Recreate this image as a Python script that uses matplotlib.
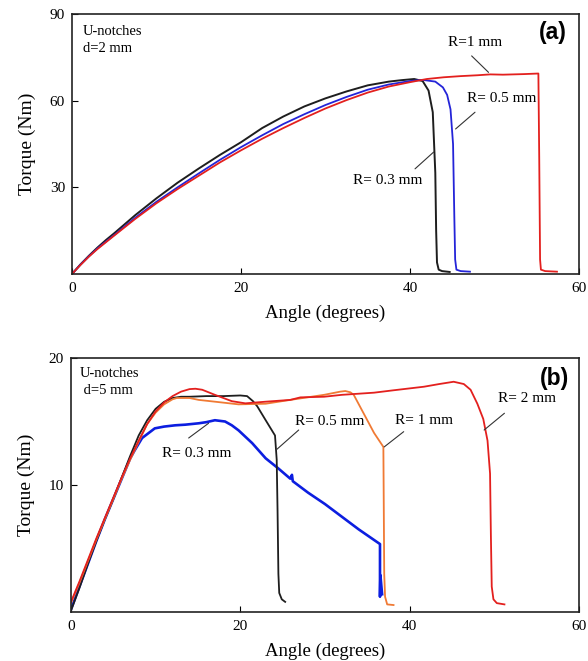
import numpy as np
import matplotlib.pyplot as plt

# ---- (a) U-notches, d = 2 mm ----
a_r03_angle = [0, 1, 2, 3, 4, 5, 7.5, 10, 12.5, 15, 17.5, 20, 22.5, 25, 27.5, 30, 32.5, 35,
               37.5, 39, 40.5, 41.5, 42.2, 42.7, 43.0, 43.1, 43.2, 43.4, 43.8, 44.7]
a_r03_torque = [0, 3.3, 6.3, 9.1, 11.7, 14.1, 20.4, 26.2, 31.6, 36.5, 41.2, 45.6, 50.5, 54.5,
                58.0, 60.8, 63.2, 65.3, 66.6, 67.1, 67.5, 66.8, 63.5, 56.0, 35.0, 15.0, 4.0,
                1.5, 1.0, 0.7]

a_r05_angle = [0, 1, 2, 3, 5, 7.5, 10, 12.5, 15, 17.5, 20, 22.5, 25, 27.5, 30, 32.5, 35, 37.5,
               40, 41.5, 43, 43.9, 44.4, 44.8, 45.1, 45.25, 45.35, 45.5, 46, 47.1]
a_r05_torque = [0, 3.2, 6.1, 8.8, 13.5, 19.5, 25.0, 30.0, 34.8, 39.5, 43.9, 48.0, 51.9, 55.3,
                58.5, 61.3, 63.8, 65.6, 66.8, 67.2, 66.6, 64.6, 62.0, 57.0, 45.0, 20.0, 5.0,
                1.5, 1.0, 0.8]

a_r1_angle = [0, 1, 2, 3, 5, 7.5, 10, 12.5, 15, 17.5, 20, 22.5, 25, 27.5, 30, 32.5, 35, 37.5,
              40, 42, 44, 46, 48, 49.5, 51, 53.5, 55.2, 55.3, 55.4, 55.5, 56, 57.4]
a_r1_torque = [0, 3.1, 6.0, 8.6, 13.3, 19.1, 24.5, 29.4, 34.0, 38.6, 42.8, 46.8, 50.5, 54.0,
               57.3, 60.2, 62.8, 64.9, 66.4, 67.5, 68.1, 68.5, 68.8, 69.1, 69.0, 69.2, 69.4,
               40.0, 5.0, 1.5, 1.0, 0.8]

# ---- (b) U-notches, d = 5 mm ----
b_r03_angle = [0, 1, 2, 3, 4, 5, 6, 7, 7.5, 8.4, 9.9, 11, 12.3, 13.5, 15.1, 16, 17, 18.2, 19,
               19.8, 21.4, 23, 24.5, 25.9, 26.1, 26.2, 28, 30, 32, 34, 36.5, 36.5, 36.55, 36.75]
b_r03_torque = [0.2, 2.0, 3.8, 5.6, 7.3, 8.9, 10.5, 12.1, 12.7, 13.7, 14.46, 14.6, 14.7, 14.75,
                14.86, 14.95, 15.1, 15.0, 14.7, 14.3, 13.3, 12.1, 11.3, 10.5, 10.8, 10.3, 9.4,
                8.5, 7.5, 6.5, 5.35, 1.2, 2.9, 1.4]

b_r05_angle = [0, 1, 2, 3, 4, 5, 6, 7, 8, 9, 10, 11, 12, 13, 14, 16, 18, 20, 20.8, 21.5, 22,
               23, 24.1, 24.3, 24.4, 24.5, 24.6, 24.9, 25.3]
b_r05_torque = [0.1, 1.9, 3.8, 5.6, 7.3, 8.9, 10.6, 12.3, 13.9, 15.1, 16.0, 16.55, 16.85, 16.95,
                16.95, 17.0, 17.0, 17.05, 17.0, 16.6, 16.2, 15.1, 13.9, 12.0, 8.0, 3.0, 1.5,
                1.0, 0.8]

b_r1_angle = [0, 1, 2, 3, 4, 5, 6, 7, 8, 9, 10, 11, 12, 12.5, 14, 15.1, 17, 19.8, 23, 25.9,
              29.9, 31.8, 32.4, 33.0, 33.4, 34.6, 35.8, 36.9, 36.95, 37.0, 37.1, 37.35, 38.1]
b_r1_torque = [0.7, 2.3, 4.0, 5.7, 7.3, 8.9, 10.5, 12.0, 13.4, 14.8, 15.7, 16.35, 16.75, 16.85,
               16.85, 16.7, 16.56, 16.35, 16.4, 16.7, 17.1, 17.35, 17.4, 17.3, 17.1, 15.6,
               14.1, 13.0, 8.0, 3.0, 1.2, 0.6, 0.55]

b_r2_angle = [0, 1, 2, 3, 4, 5, 6, 7, 8, 9, 10, 11, 12, 13, 14, 14.7, 15.5, 17, 19, 20.6, 23,
              25.9, 27.1, 29.9, 32, 35.8, 38, 41.7, 43.5, 45.2, 46.4, 47.2, 48, 48.7, 49.2,
              49.5, 49.6, 49.7, 49.9, 50.3, 51.2]
b_r2_torque = [0.8, 2.4, 4.1, 5.8, 7.4, 9.0, 10.6, 12.1, 13.5, 14.8, 15.8, 16.5, 17.0, 17.35,
               17.55, 17.58, 17.5, 17.1, 16.6, 16.43, 16.56, 16.7, 16.9, 16.95, 17.1, 17.27,
               17.45, 17.74, 17.95, 18.13, 17.95, 17.5, 16.4, 15.2, 13.5, 10.9, 6.0, 2.0,
               1.0, 0.7, 0.6]

plt.rcParams['font.family'] = ['Liberation Serif', 'DejaVu Serif']
plt.rcParams['xtick.direction'] = 'in'
plt.rcParams['ytick.direction'] = 'in'
plt.rcParams['xtick.labelsize'] = 11
plt.rcParams['ytick.labelsize'] = 11

fig = plt.figure(figsize=(5.88, 6.61), dpi=100)
ax1 = fig.add_axes([0.1224, 0.5855, 0.8622, 0.3933])
ax2 = fig.add_axes([0.1207, 0.0741, 0.8639, 0.3843])

BLACK = '#1e1e1e'
BLUE_A = '#2424d8'
RED = '#e3201e'
ORANGE = '#f07a34'
BLUE_B = '#0c1ee0'

# top panel
ax1.plot(a_r03_angle, a_r03_torque, color=BLACK, lw=1.4)
ax1.plot(a_r05_angle, a_r05_torque, color=BLUE_A, lw=1.3)
ax1.plot(a_r1_angle, a_r1_torque, color=RED, lw=1.3)
ax1.set_xlim(0, 60)
ax1.set_ylim(0, 90)
ax1.set_xticks([0, 20, 40, 60])
ax1.set_yticks([30, 60, 90])

line = dict(arrowstyle='-', color='#333333', lw=0.8, shrinkA=0, shrinkB=0)
ax1.text(47.7, 80.1, 'R=1 mm', ha='center', va='center', fontsize=11)
ax1.annotate('', xy=(49.3, 69.8), xytext=(47.3, 75.5), arrowprops=line)
ax1.text(50.9, 60.6, 'R= 0.5 mm', ha='center', va='center', fontsize=11)
ax1.annotate('', xy=(45.4, 50.2), xytext=(47.7, 56.0), arrowprops=line)
ax1.text(37.4, 32.4, 'R= 0.3 mm', ha='center', va='center', fontsize=11)
ax1.annotate('', xy=(42.8, 42.2), xytext=(40.6, 36.4), arrowprops=line)
ax1.text(0.022, 0.958, 'U-notches\nd=2 mm', transform=ax1.transAxes, ha='left', va='top',
         fontsize=10.5, linespacing=1.4)
ax1.text(0.949, 0.93, '(a)', transform=ax1.transAxes, ha='center', va='center',
         fontsize=16.5, fontweight='bold', family='Liberation Sans')

# bottom panel
ax2.plot(b_r03_angle, b_r03_torque, color=BLUE_B, lw=1.9)
ax2.plot(b_r05_angle, b_r05_torque, color=BLACK, lw=1.3)
ax2.plot(b_r1_angle, b_r1_torque, color=ORANGE, lw=1.3)
ax2.plot(b_r2_angle, b_r2_torque, color=RED, lw=1.3)
ax2.set_xlim(0, 60)
ax2.set_ylim(0, 20)
ax2.set_xticks([0, 20, 40, 60])
ax2.set_yticks([10, 20])

ax2.text(14.8, 12.5, 'R= 0.3 mm', ha='center', va='center', fontsize=11)
ax2.annotate('', xy=(16.25, 14.86), xytext=(13.9, 13.7), arrowprops=line)
ax2.text(30.5, 15.0, 'R= 0.5 mm', ha='center', va='center', fontsize=11)
ax2.annotate('', xy=(24.3, 12.8), xytext=(26.9, 14.33), arrowprops=line)
ax2.text(41.7, 15.1, 'R= 1 mm', ha='center', va='center', fontsize=11)
ax2.annotate('', xy=(37.0, 13.0), xytext=(39.3, 14.2), arrowprops=line)
ax2.text(53.9, 16.8, 'R= 2 mm', ha='center', va='center', fontsize=11)
ax2.annotate('', xy=(48.8, 14.33), xytext=(51.2, 15.65), arrowprops=line)
ax2.text(0.018, 0.965, 'U-notches\n d=5 mm', transform=ax2.transAxes, ha='left', va='top',
         fontsize=10.5, linespacing=1.4)
ax2.text(0.951, 0.92, '(b)', transform=ax2.transAxes, ha='center', va='center',
         fontsize=16.5, fontweight='bold', family='Liberation Sans')

for ax in (ax1, ax2):
    ax.set_xlabel('Angle (degrees)', fontsize=13.5, labelpad=7)
    ax.set_ylabel('Torque (Nm)', fontsize=14, labelpad=10)
    ax.tick_params(length=4, width=0.8, pad=6)
    ax.tick_params(axis='y', pad=5)
    for s in ax.spines.values():
        s.set_linewidth(1.2)
        s.set_color('#222222')

fig.savefig('out.png', dpi=100)
